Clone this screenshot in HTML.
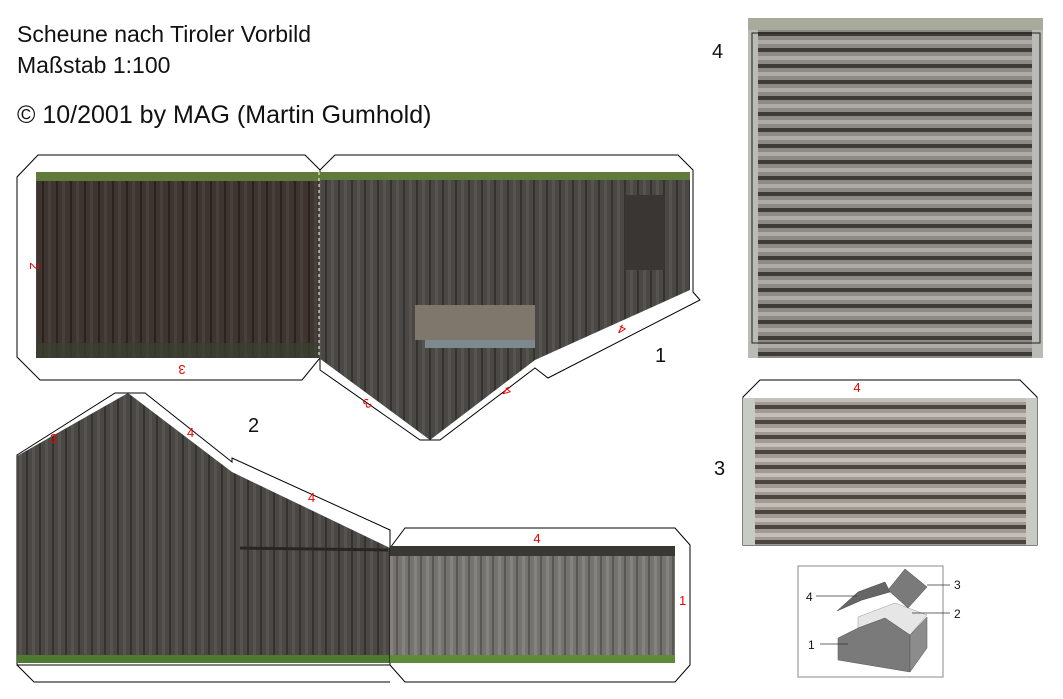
<!DOCTYPE html>
<html><head><meta charset="utf-8"><style>
html,body{margin:0;padding:0;background:#fff;}
svg{display:block;}
text{font-family:"Liberation Sans",Arial,sans-serif;}
</style></head><body>
<svg width="1063" height="699" viewBox="0 0 1063 699" xmlns="http://www.w3.org/2000/svg">
<defs>
<pattern id="plankD" width="14" height="200" patternUnits="userSpaceOnUse">
<rect width="14" height="200" fill="#3e3530"/><rect x="0" width="2" height="200" fill="#2a221e"/><rect x="6" width="3" height="200" fill="#48403a"/>
</pattern>
<pattern id="plankM" width="13" height="200" patternUnits="userSpaceOnUse">
<rect width="13" height="200" fill="#4a4844"/><rect x="0" width="2" height="200" fill="#353330"/><rect x="6" width="3" height="200" fill="#575450"/>
</pattern>
<pattern id="plankL" width="12" height="200" patternUnits="userSpaceOnUse">
<rect width="12" height="200" fill="#75736f"/><rect x="0" width="2" height="200" fill="#5a5855"/><rect x="6" width="3" height="200" fill="#85837f"/>
</pattern>
<pattern id="roof" width="40" height="16" patternUnits="userSpaceOnUse">
<rect width="40" height="16" fill="#8e8a86"/><rect y="0" width="40" height="4" fill="#3e3b39"/><rect y="8" width="40" height="4" fill="#aeaaa6"/>
</pattern>
<pattern id="roof3" width="40" height="15" patternUnits="userSpaceOnUse">
<rect width="40" height="15" fill="#a09a92"/><rect y="0" width="40" height="4" fill="#4a4541"/><rect y="8" width="40" height="4" fill="#c4bfb9"/>
</pattern>
</defs>

<text x="17" y="42" font-size="23" fill="#111">Scheune nach Tiroler Vorbild</text>
<text x="17" y="73" font-size="23" fill="#111">Maßstab 1:100</text>
<text x="17" y="123" font-size="25" fill="#111">© 10/2001 by MAG (Martin Gumhold)</text>

<!-- piece top-left -->
<polygon points="38,155 305,155 320,170 320,358 302,380 40,380 17,357 17,177" fill="none" stroke="#000" stroke-width="1"/>
<rect x="36" y="172" width="283" height="186" fill="url(#plankD)"/>
<rect x="36" y="172" width="283" height="9" fill="#5f7a3a"/>
<rect x="36" y="343" width="283" height="15" fill="#3a4230" opacity="0.7"/>
<text x="30" y="266" font-size="13" fill="#e00" transform="rotate(90 30 266)" text-anchor="middle">2</text>
<text x="182" y="373" font-size="13" fill="#e00" transform="rotate(180 182 369)" text-anchor="middle">3</text>

<!-- piece 1 -->
<polygon points="320,170 335,155 678,155 693,170 693,292 700,300 548,378 535,368 440,440 420,440 320,370" fill="none" stroke="#000"/>
<polygon points="319,172 690,172 690,290 535,360 430,440 319,358" fill="url(#plankM)"/>
<rect x="319" y="172" width="371" height="8" fill="#5f7a3a"/>
<rect x="415" y="305" width="120" height="35" fill="#7f766c"/>
<rect x="425" y="340" width="110" height="8" fill="#7c8a90"/>
<rect x="625" y="195" width="40" height="75" fill="#3a3633"/>
<line x1="319" y1="172" x2="319" y2="358" stroke="#fff" stroke-dasharray="3,3"/>
<text x="655" y="362" font-size="20" fill="#111">1</text>
<text x="622" y="333" font-size="13" fill="#e00" transform="rotate(205 622 329)" text-anchor="middle">4</text>
<text x="507" y="395" font-size="13" fill="#e00" transform="rotate(220 507 391)" text-anchor="middle">4</text>
<text x="367" y="407" font-size="13" fill="#e00" transform="rotate(145 367 403)" text-anchor="middle">3</text>

<!-- piece 2 -->
<polygon points="17,455 115,393 145,393 232,462 232,458 390,530 390,665 17,665" fill="none" stroke="#000"/>
<polygon points="17,456 128,393 232,472 390,548 390,663 17,663" fill="url(#plankM)"/>
<rect x="17" y="655" width="373" height="8" fill="#4d7a30"/>
<line x1="240" y1="548" x2="388" y2="550" stroke="#2a2522" stroke-width="3"/>
<text x="248" y="432" font-size="20" fill="#111">2</text>
<text x="50" y="443" font-size="13" fill="#e00">3</text>
<text x="187" y="437" font-size="13" fill="#e00">4</text>
<text x="308" y="502" font-size="13" fill="#e00">4</text>

<!-- piece right of 2 -->
<polygon points="390,548 405,528 675,528 690,545 690,665 675,682 405,682 390,665" fill="none" stroke="#000"/>
<rect x="390" y="546" width="285" height="117" fill="url(#plankL)"/>
<rect x="390" y="546" width="285" height="10" fill="#3a3835"/>
<rect x="390" y="655" width="285" height="8" fill="#5f8a3a"/>
<text x="537" y="543" font-size="13" fill="#e00" text-anchor="middle">4</text>
<text x="679" y="605" font-size="13" fill="#e00">1</text>
<polyline points="17,665 34,682 390,682" fill="none" stroke="#000"/>

<!-- roof 4 -->
<text x="712" y="58" font-size="20" fill="#111">4</text>
<rect x="748" y="22" width="295" height="336" fill="url(#roof)"/>
<rect x="748" y="22" width="10" height="336" fill="#b8bbb6"/>
<rect x="1032" y="22" width="11" height="336" fill="#b8bbb6"/>
<rect x="748" y="18" width="295" height="12" fill="#a8ab9c"/>
<rect x="752" y="33" width="288" height="310" fill="none" stroke="#222" stroke-width="1"/>

<!-- roof 3 -->
<text x="714" y="475" font-size="20" fill="#111">3</text>
<polygon points="743,397 760,380 1020,380 1037,397 1037,545 743,545" fill="none" stroke="#000"/>
<rect x="743" y="398" width="294" height="147" fill="url(#roof3)"/>
<rect x="743" y="398" width="12" height="147" fill="#c8cbc4"/>
<rect x="1026" y="398" width="11" height="147" fill="#c8cbc4"/>
<text x="857" y="392" font-size="13" fill="#e00" text-anchor="middle">4</text>

<!-- mini diagram -->
<rect x="798" y="566" width="145" height="111" fill="#fff" stroke="#888"/>
<polygon points="858,617 895,603 927,615 910,635 885,618 858,628" fill="#e6e6e6" stroke="#999" stroke-width="0.5"/>
<polygon points="838,638 858,628 885,618 910,635 910,672 838,660" fill="#7a7a7a" stroke="#555" stroke-width="0.5"/>
<polygon points="910,635 927,617 927,648 910,672" fill="#8c8c8c" stroke="#555" stroke-width="0.5"/>
<polygon points="837,611 858,592 885,582 890,592 862,600" fill="#666" stroke="#444" stroke-width="0.5"/>
<polygon points="905,569 927,587 908,608 888,590" fill="#7a7a7a" stroke="#444" stroke-width="0.5"/>
<line x1="816" y1="596" x2="857" y2="596" stroke="#333" stroke-width="0.8"/>
<line x1="820" y1="644" x2="848" y2="644" stroke="#333" stroke-width="0.8"/>
<line x1="927" y1="585" x2="950" y2="585" stroke="#333" stroke-width="0.8"/>
<line x1="912" y1="613" x2="950" y2="613" stroke="#333" stroke-width="0.8"/>
<text x="806" y="601" font-size="12" fill="#111">4</text>
<text x="808" y="649" font-size="12" fill="#111">1</text>
<text x="954" y="589" font-size="12" fill="#111">3</text>
<text x="954" y="618" font-size="12" fill="#111">2</text>
</svg>
</body></html>
